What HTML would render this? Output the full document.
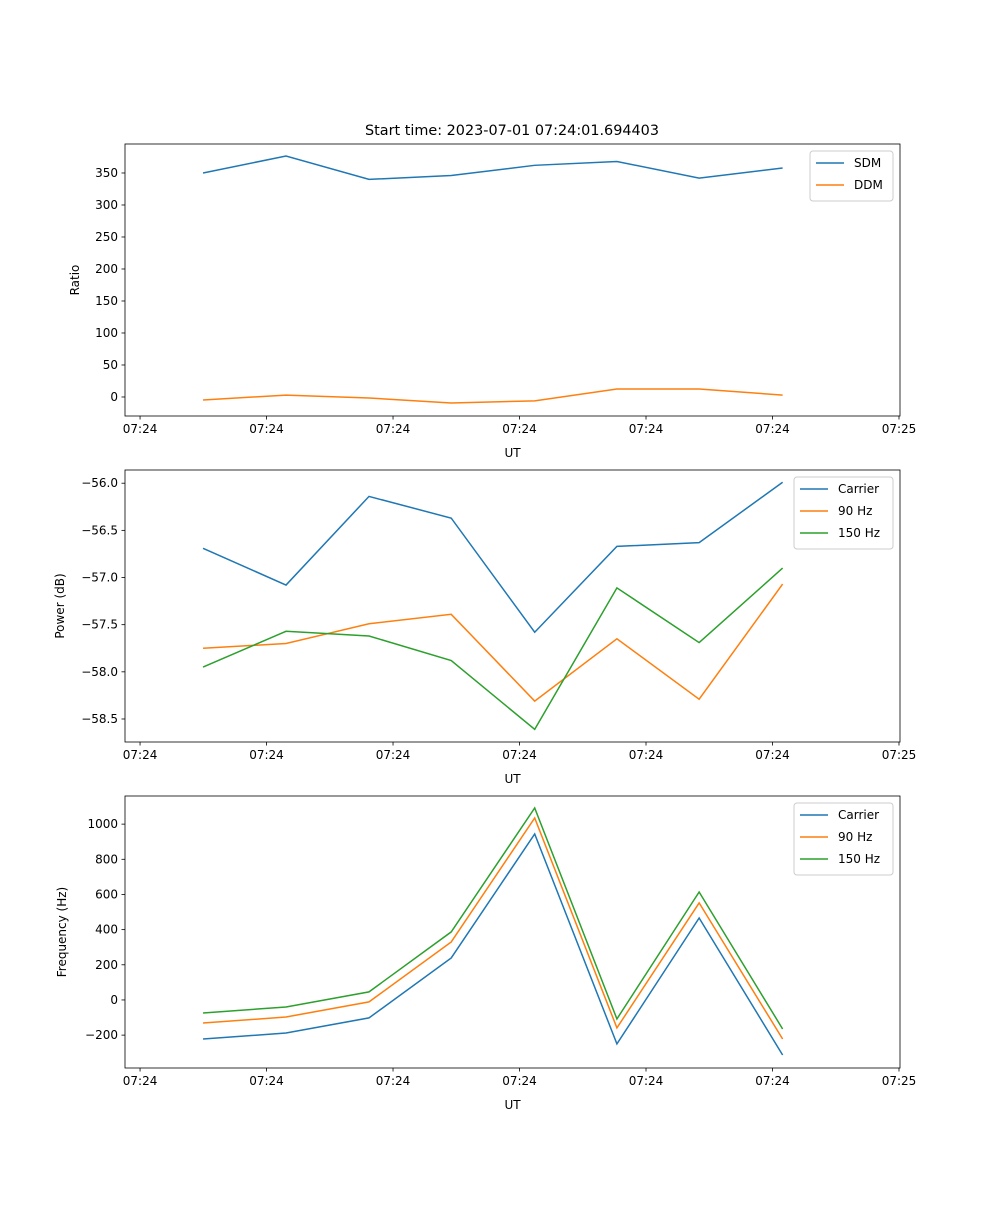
<!DOCTYPE html>
<html><head><meta charset="utf-8"><style>
body{margin:0;background:#fff}
svg text{font-family:"DejaVu Sans","Liberation Sans",sans-serif;fill:#000}
</style></head><body>
<svg id="fig" width="1000" height="1200"></svg>
<script>
const times=[4.98,11.54,18.1,24.6,31.2,37.7,44.2,50.8];
const xTicks=[0,10,20,30,40,50,60];
const xTickLabels=["07:24","07:24","07:24","07:24","07:24","07:24","07:25"];
const sdm=[350,376.5,340,346,362,368,342,357.8];
const ddm=[-4.7,3,-1.5,-9.4,-6,12.5,12.5,3];
const pCarrier=[-56.69,-57.08,-56.14,-56.37,-57.58,-56.67,-56.63,-55.99];
const p90=[-57.75,-57.70,-57.49,-57.39,-58.31,-57.65,-58.29,-57.07];
const p150=[-57.95,-57.57,-57.62,-57.88,-58.61,-57.11,-57.69,-56.90];
const fCarrier=[-222,-188,-102,239,944,-250,466,-313];
const f90=[-131,-97,-11,330,1035,-159,552,-222];
const f150=[-74,-40,46,387,1092,-108,614,-165];
const ticks1=[0,50,100,150,200,250,300,350];
const ticks2=[-58.5,-58.0,-57.5,-57.0,-56.5,-56.0];
const ticks3=[-200,0,200,400,600,800,1000];
const C=["#1f77b4","#ff7f0e","#2ca02c"];
const NS="http://www.w3.org/2000/svg";
const svg=document.getElementById("fig");
function el(t,a,p){const e=document.createElementNS(NS,t);for(const k in a)e.setAttribute(k,a[k]);(p||svg).appendChild(e);return e;}
function fmt(v,d){return (v<0?"\u2212":"")+Math.abs(v).toFixed(d);}
function panel(name,top,ylim,yt,dec,series,names,ylabel,leg){
 const L=125,R=900,T=top,B=top+272,xl=[-1.19,60.08];
 const X=v=>L+(v-xl[0])/(xl[1]-xl[0])*(R-L);
 const Y=v=>B-(v-ylim[0])/(ylim[1]-ylim[0])*(B-T);
 const g=el("g",{});
 
 
 series.forEach((s,i)=>{
  const pl=el("polyline",{points:s.map((v,j)=>X(times[j])+","+Y(v)).join(" "),fill:"none",stroke:C[i],"stroke-width":1.5},g);
  
  
 });
 el("rect",{x:L,y:T,width:R-L,height:B-T,fill:"none",stroke:"#000","stroke-width":0.8},g);
 xTicks.forEach((t,i)=>{const x=X(t);el("line",{x1:x,x2:x,y1:B,y2:B+3.5,stroke:"#000","stroke-width":0.8},g);
  const tx=el("text",{x:x,y:B+17,"font-size":12,"text-anchor":"middle"},g);tx.textContent=xTickLabels[i];});
 yt.forEach(t=>{const y=Y(t);el("line",{x1:L-3.5,x2:L,y1:y,y2:y,stroke:"#000","stroke-width":0.8},g);
  const tx=el("text",{x:L-7,y:y+4,"font-size":12,"text-anchor":"end"},g);tx.textContent=fmt(t,dec);});
 const xlab=el("text",{x:(L+R)/2,y:B+41,"font-size":12,"text-anchor":"middle"},g);xlab.textContent="UT";
 
 const ylx=leg.ylx;
 const yl=el("text",{x:ylx,y:(T+B)/2,"font-size":12,"text-anchor":"middle",transform:`rotate(-90 ${ylx} ${(T+B)/2})`},g);yl.textContent=ylabel;
 
 const lg=el("g",{},g);
 
 el("rect",{x:leg.x,y:T+7,width:R-7-leg.x,height:names.length*22+6,fill:"#fff",stroke:"#ccc",rx:3},lg);
 names.forEach((n,i)=>{const y=T+19+i*22;
  el("line",{x1:leg.x+6,x2:leg.x+34,y1:y,y2:y,stroke:C[i],"stroke-width":1.5},lg);
  const t=el("text",{x:leg.x+44,y:y+4,"font-size":12},lg);t.textContent=n;});
}
const title=el("text",{x:512,y:135,"font-size":14.4,"text-anchor":"middle"});
title.textContent="Start time: 2023-07-01 07:24:01.694403";

panel("ratio-panel",144,[-29.7,395.3],ticks1,0,[sdm,ddm],["SDM","DDM"],"Ratio",{x:810,ylx:79});
panel("power-panel",470,[-58.744,-55.86],ticks2,1,[pCarrier,p90,p150],["Carrier","90 Hz","150 Hz"],"Power (dB)",{x:794,ylx:64});
panel("frequency-panel",796,[-387,1160],ticks3,0,[fCarrier,f90,f150],["Carrier","90 Hz","150 Hz"],"Frequency (Hz)",{x:794,ylx:66});
</script>
</body></html>
